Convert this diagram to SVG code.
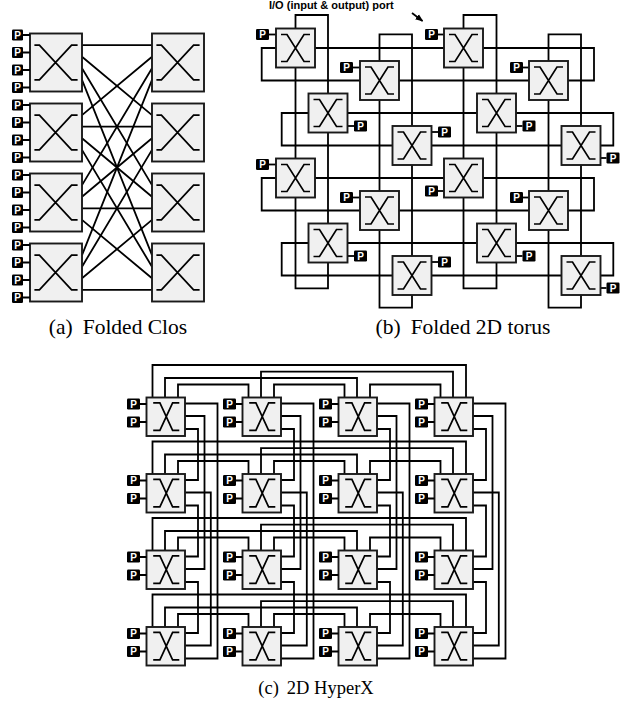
<svg xmlns="http://www.w3.org/2000/svg" width="631" height="710" viewBox="0 0 631 710">
<style>
.ln{fill:none;stroke:#000;stroke-width:1.8}
.sw{fill:#f0f0f0;stroke:#1a1a1a;stroke-width:1.9}
.xg{fill:none;stroke:#000;stroke-width:1.7}
.pt{fill:#fff;font-family:"Liberation Sans",Arial,sans-serif;font-weight:bold;font-size:10px;text-anchor:middle}
.cap{font-family:"Liberation Serif","Times New Roman",serif;font-size:18.5px;fill:#000}
.capab{font-size:21.5px}
.lbl{font-family:"Liberation Sans",Arial,sans-serif;font-weight:bold;font-size:11px;fill:#000}
</style>
<defs>
<marker id="ah" markerWidth="8" markerHeight="8" refX="7" refY="4" orient="auto" markerUnits="userSpaceOnUse">
<path d="M0,0.8L8,4L0,7.2Z" fill="#000"/>
</marker>
<g id="pC"><rect width="11" height="11" rx="1.2" fill="#000"/><text class="pt" x="5.5" y="9.3">P</text></g>
<g id="pT"><rect width="13" height="11" rx="1.2" fill="#000"/><text class="pt" x="6.5" y="9.3">P</text></g>
<g id="swC">
<rect class="sw" width="52" height="58"/>
<path class="xg" d="M4.4,11.6H9.4L41.6,46.4H47.6M47.6,11.6H41.6L9.4,46.4H4.4"/>
</g>
<g id="swCL">
<use href="#swC"/>
<path class="ln" d="M-7,1.5H0M-7,19H0M-7,36.5H0M-7,54H0"/>
<use href="#pC" x="-18" y="-4"/>
<use href="#pC" x="-18" y="13.5"/>
<use href="#pC" x="-18" y="31"/>
<use href="#pC" x="-18" y="48.5"/>
</g>
<g id="swT">
<rect class="sw" width="39" height="39"/>
<path class="xg" d="M5,6H11L28,33H34M34,6H28L11,33H5"/>
</g>
<g id="swH">
<rect class="sw" width="38.5" height="38.5"/>
<path class="xg" d="M6.7,5.4H13.4L26.1,32.9H32.8M32.8,5.4H26.1L13.4,32.9H6.7"/>
<path class="ln" d="M-6.5,6.5H0M-6.5,24.5H0"/>
<use href="#pT" x="-19.5" y="1"/>
<use href="#pT" x="-19.5" y="19"/>
</g>
</defs>
<rect width="631" height="710" fill="#fff"/>

<!-- (a) Folded Clos -->
<g id="clos-connectors" class="ln">
<path d="M82,45.1L152,45.1M82,56.7L152,115.1M82,68.3L152,185.1M82,79.9L152,255.1"/>
<path d="M82,115.1L152,56.7M82,126.7L152,126.7M82,138.3L152,196.7M82,149.9L152,266.7"/>
<path d="M82,185.1L152,68.3M82,196.7L152,138.3M82,208.3L152,208.3M82,219.9L152,278.3"/>
<path d="M82,255.1L152,79.9M82,266.7L152,149.9M82,278.3L152,219.9M82,289.9L152,289.9"/>
</g>
<g id="clos-L1"><use href="#swCL" x="30" y="33.5"/></g>
<g id="clos-L2"><use href="#swCL" x="30" y="103.5"/></g>
<g id="clos-L3"><use href="#swCL" x="30" y="173.5"/></g>
<g id="clos-L4"><use href="#swCL" x="30" y="243.5"/></g>
<g id="clos-R1"><use href="#swC" x="152" y="33.5"/></g>
<g id="clos-R2"><use href="#swC" x="152" y="103.5"/></g>
<g id="clos-R3"><use href="#swC" x="152" y="173.5"/></g>
<g id="clos-R4"><use href="#swC" x="152" y="243.5"/></g>

<!-- (b) Folded 2D torus -->
<g id="torus-label">
<text class="lbl" x="269" y="9">I/O (input &amp; output) port</text>
<path class="ln" d="M412,13L422.5,21" marker-end="url(#ah)" stroke-width="1.3"/>
</g>
<g id="torus-connectors" class="ln">
<path d="M276,48H261.7V80.5H360M315,48H444M483,48H594V80.5H568M529,80.5H399"/>
<path d="M308.5,113H281.7V145.5H392.5M347.5,113H477M516,113H613.3V145.5H600.5M561.5,145.5H431.5"/>
<path d="M276,178H261.7V210.5H360M315,178H444M483,178H594V210.5H568M529,210.5H399"/>
<path d="M308.5,243H281.7V275.5H392.5M347.5,243H477M516,243H613.3V275.5H600.5M561.5,275.5H431.5"/>
<path d="M295.5,28.5V15H328V93.5M295.5,67.5V158.5M295.5,197.5V288.3H328V262.5M328,132.5V223.5"/>
<path d="M379.5,61V34.3H412V126M379.5,100V191M379.5,230V307.7H412V295M412,165V256"/>
<path d="M463.5,28.5V15H496.5V93.5M463.5,67.5V158.5M463.5,197.5V288.3H496.5V262.5M496.5,132.5V223.5"/>
<path d="M548.5,61V34.3H581V126M548.5,100V191M548.5,230V307.7H581V295M581,165V256"/>
</g>
<g id="t1"><path class="ln" d="M269,34.5H276"/><use href="#pT" x="256" y="29"/><use href="#swT" x="276" y="28.5"/></g>
<g id="t2"><path class="ln" d="M353,67.5H360"/><use href="#pT" x="340" y="62"/><use href="#swT" x="360" y="61"/></g>
<g id="t3"><path class="ln" d="M347.5,126H354"/><use href="#pT" x="354" y="120.5"/><use href="#swT" x="308.5" y="93.5"/></g>
<g id="t4"><path class="ln" d="M431.5,132H438"/><use href="#pT" x="438" y="126.5"/><use href="#swT" x="392.5" y="126"/></g>
<g id="t5"><path class="ln" d="M438,34.5H444"/><use href="#pT" x="425" y="29"/><use href="#swT" x="444" y="28.5"/></g>
<g id="t6"><path class="ln" d="M523,67.5H529"/><use href="#pT" x="510" y="62"/><use href="#swT" x="529" y="61"/></g>
<g id="t7"><path class="ln" d="M516,126H522.5"/><use href="#pT" x="522.5" y="120.5"/><use href="#swT" x="477" y="93.5"/></g>
<g id="t8"><path class="ln" d="M600.5,158H606.5"/><use href="#pT" x="606.5" y="152.5"/><use href="#swT" x="561.5" y="126"/></g>
<g id="t9"><path class="ln" d="M269,164.5H276"/><use href="#pT" x="256" y="159"/><use href="#swT" x="276" y="158.5"/></g>
<g id="t10"><path class="ln" d="M353,197.5H360"/><use href="#pT" x="340" y="192"/><use href="#swT" x="360" y="191"/></g>
<g id="t11"><path class="ln" d="M347.5,256H354"/><use href="#pT" x="354" y="250.5"/><use href="#swT" x="308.5" y="223.5"/></g>
<g id="t12"><path class="ln" d="M431.5,262H438"/><use href="#pT" x="438" y="256.5"/><use href="#swT" x="392.5" y="256"/></g>
<g id="t13"><path class="ln" d="M438,191H444"/><use href="#pT" x="425" y="185.5"/><use href="#swT" x="444" y="158.5"/></g>
<g id="t14"><path class="ln" d="M523,197.5H529"/><use href="#pT" x="510" y="192"/><use href="#swT" x="529" y="191"/></g>
<g id="t15"><path class="ln" d="M516,256H522.5"/><use href="#pT" x="522.5" y="250.5"/><use href="#swT" x="477" y="223.5"/></g>
<g id="t16"><path class="ln" d="M600.5,288H606.5"/><use href="#pT" x="606.5" y="282.5"/><use href="#swT" x="561.5" y="256"/></g>

<!-- (c) 2D HyperX -->
<g id="hyperx-connectors" class="ln">
<path d="M152.5,397.5V365H466V397.5M261,397.5V371.7H453V397.5M165,397.5V378H357V397.5M178,397.5V384.5H248.5V397.5M274,397.5V384.5H344.5V397.5M370,397.5V384.5H440.5V397.5"/>
<path d="M152.5,474V441.5H466V474M261,474V448.2H453V474M165,474V454.5H357V474M178,474V461H248.5V474M274,474V461H344.5V474M370,474V461H440.5V474"/>
<path d="M152.5,550.5V518H466V550.5M261,550.5V524.7H453V550.5M165,550.5V531H357V550.5M178,550.5V537.5H248.5V550.5M274,550.5V537.5H344.5V550.5M370,550.5V537.5H440.5V550.5"/>
<path d="M152.5,627V594.5H466V627M261,627V601.2H453V627M165,627V607.5H357V627M178,627V614H248.5V627M274,627V614H344.5V627M370,627V614H440.5V627"/>
<path d="M185,403.5H217.5V658.5H185M185,492.5H210.8V645.5H185M185,416H204.5V569H185M185,429H198V480H185M185,505.5H198V556.5H185M185,582H198V633H185"/>
<path d="M281,403.5H313.5V658.5H281M281,492.5H306.8V645.5H281M281,416H300.5V569H281M281,429H294V480H281M281,505.5H294V556.5H281M281,582H294V633H281"/>
<path d="M377,403.5H409.5V658.5H377M377,492.5H402.8V645.5H377M377,416H396.5V569H377M377,429H390V480H377M377,505.5H390V556.5H377M377,582H390V633H377"/>
<path d="M473,403.5H505.5V658.5H473M473,492.5H498.8V645.5H473M473,416H492.5V569H473M473,429H486V480H473M473,505.5H486V556.5H473M473,582H486V633H473"/>
</g>
<g id="h11"><use href="#swH" x="146.5" y="397.5"/></g>
<g id="h12"><use href="#swH" x="242.5" y="397.5"/></g>
<g id="h13"><use href="#swH" x="338.5" y="397.5"/></g>
<g id="h14"><use href="#swH" x="434.5" y="397.5"/></g>
<g id="h21"><use href="#swH" x="146.5" y="474"/></g>
<g id="h22"><use href="#swH" x="242.5" y="474"/></g>
<g id="h23"><use href="#swH" x="338.5" y="474"/></g>
<g id="h24"><use href="#swH" x="434.5" y="474"/></g>
<g id="h31"><use href="#swH" x="146.5" y="550.5"/></g>
<g id="h32"><use href="#swH" x="242.5" y="550.5"/></g>
<g id="h33"><use href="#swH" x="338.5" y="550.5"/></g>
<g id="h34"><use href="#swH" x="434.5" y="550.5"/></g>
<g id="h41"><use href="#swH" x="146.5" y="627"/></g>
<g id="h42"><use href="#swH" x="242.5" y="627"/></g>
<g id="h43"><use href="#swH" x="338.5" y="627"/></g>
<g id="h44"><use href="#swH" x="434.5" y="627"/></g>

<!-- captions -->
<text class="cap capab" x="118" y="334" text-anchor="middle">(a)<tspan dx="10">Folded Clos</tspan></text>
<text class="cap capab" x="463" y="334" text-anchor="middle">(b)<tspan dx="10">Folded 2D torus</tspan></text>
<text class="cap" x="316" y="694" text-anchor="middle">(c)<tspan dx="8">2D HyperX</tspan></text>
</svg>
